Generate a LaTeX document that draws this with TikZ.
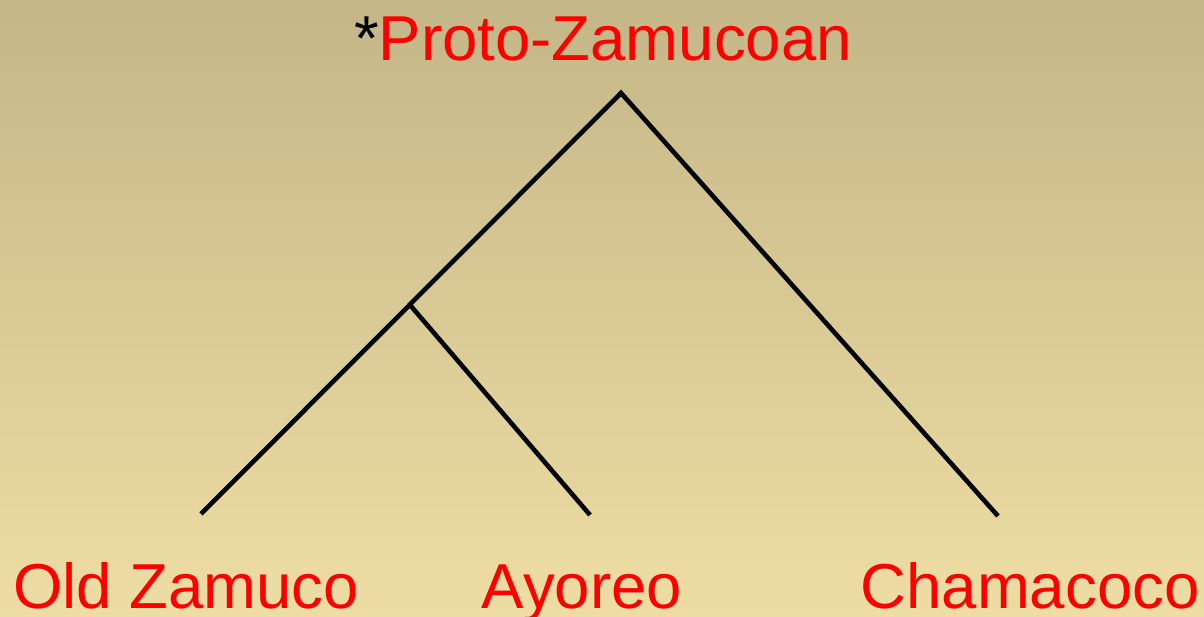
\documentclass[tikz,border=0pt]{standalone}
\usepackage{fontspec}
\setmainfont{Liberation Sans}
\definecolor{bgtop}{RGB}{196,182,135}
\definecolor{bgbot}{RGB}{238,221,163}
\definecolor{lbl}{RGB}{255,0,0}
\tikzset{
  lang/.style={text=lbl, font=\fontsize{63.5}{70}\selectfont, inner sep=0pt, anchor=base},
  branch/.style={line width=4.6pt, black, line cap=butt, line join=miter}
}
\begin{document}
\begin{tikzpicture}[x=1pt,y=1pt]
\shade[top color=bgtop, bottom color=bgbot] (0,0) rectangle (1204,617);
\useasboundingbox (0,0) rectangle (1204,617);
\node[lang] (proto) at (603,556) {\textcolor{black}{*}Proto-Zamucoan};
\node[lang] (oz) at (186,8) {Old Zamuco};
\node[lang] (ay) at (582,8) {Ayoreo};
\node[lang] (ch) at (1030,8) {Chamacoco};
\coordinate (apex) at (621,524);
\coordinate (mid) at (410,312);
\coordinate (ozend) at (201,103);
\coordinate (ayend) at (590,102);
\coordinate (chend) at (998,101);
\draw[branch] (ozend) -- (apex) -- (chend);
\draw[branch] (mid) -- (ayend);
\end{tikzpicture}
\end{document}
